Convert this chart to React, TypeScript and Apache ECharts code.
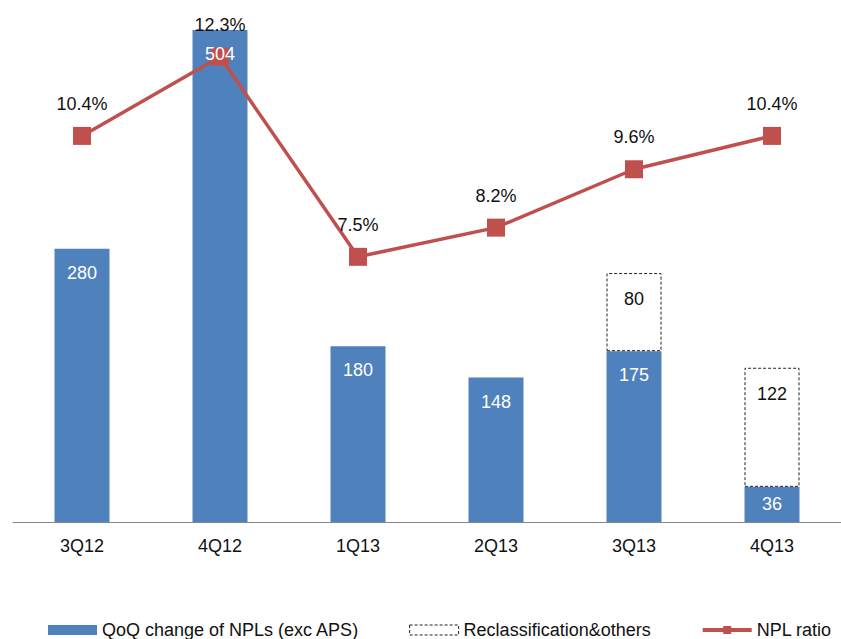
import React, { useEffect, useRef } from "react";
import * as echarts from "echarts";

const categories = ["3Q12", "4Q12", "1Q13", "2Q13", "3Q13", "4Q13"];
const qoqChange = [280, 504, 180, 148, 175, 36];
const reclass = [null, null, null, null, 80, 122];
const nplRatio = [10.4, 12.3, 7.5, 8.2, 9.6, 10.4];

const FONT = "'Liberation Sans', Arial, sans-serif";

export default function App() {
  const ref = useRef<HTMLDivElement>(null);

  useEffect(() => {
    if (!ref.current) return;
    const chart = echarts.init(ref.current, null, { renderer: "svg" });
    chart.setOption({
      animation: false,
      backgroundColor: "#ffffff",
      textStyle: { fontFamily: FONT },
      grid: { left: 13, top: 30, width: 832, height: 492, containLabel: false },
      legend: {
        left: 48,
        top: 621,
        padding: 0,
        itemWidth: 49,
        itemHeight: 10,
        itemGap: 50,
        textStyle: { fontSize: 18, color: "#111111", fontFamily: FONT },
        data: [
          { name: "QoQ change of NPLs (exc APS)", icon: "rect" },
          {
            name: "Reclassification&others",
            icon: "rect",
            itemStyle: { color: "#ffffff", borderColor: "#222222", borderWidth: 1, borderType: [3, 2] },
          },
          { name: "NPL ratio", lineStyle: { width: 4, color: "#C0504D" } },
        ],
      },
      xAxis: {
        type: "category",
        data: categories,
        axisLine: { show: true, lineStyle: { color: "#868686", width: 1 } },
        axisTick: { show: false },
        axisLabel: { fontSize: 18, color: "#111111", margin: 15, fontFamily: FONT },
        splitLine: { show: false },
      },
      yAxis: [
        { type: "value", min: 0, max: 504, show: false, splitLine: { show: false } },
        { type: "value", min: 1.14, max: 12.94, show: false, splitLine: { show: false } },
      ],
      series: [
        {
          name: "QoQ change of NPLs (exc APS)",
          type: "bar",
          stack: "a",
          barWidth: 55,
          itemStyle: { color: "#4F81BD" },
          data: qoqChange,
        },
        {
          name: "Reclassification&others",
          type: "bar",
          stack: "a",
          barWidth: 55,
          itemStyle: {
            color: "#ffffff",
            borderColor: "#222222",
            borderWidth: 1,
            borderType: [3, 2],
          },
          data: reclass,
        },
        {
          name: "NPL ratio",
          type: "line",
          yAxisIndex: 1,
          data: nplRatio,
          symbol: "rect",
          symbolSize: 18,
          itemStyle: { color: "#C0504D" },
          lineStyle: { color: "#C0504D", width: 3.5 },
          z: 5,
          label: {
            show: true,
            position: "top",
            distance: 14,
            color: "#111111",
            fontSize: 18,
            fontFamily: FONT,
            formatter: (p: any) => p.value.toFixed(1) + "%",
          },
        },
        {
          name: "qoqLabels",
          type: "bar",
          stack: "lbl",
          barWidth: 55,
          barGap: "-100%",
          z: 8,
          silent: true,
          itemStyle: { color: "rgba(0,0,0,0)" },
          data: qoqChange.map((v) =>
            v < 60 ? { value: v, label: { position: "inside", distance: 0 } } : v
          ),
          label: {
            show: true,
            position: "insideTop",
            distance: 15,
            color: "#ffffff",
            fontSize: 18,
            fontFamily: FONT,
          },
        },
        {
          name: "reclassLabels",
          type: "bar",
          stack: "lbl",
          barWidth: 55,
          z: 8,
          silent: true,
          itemStyle: { color: "rgba(0,0,0,0)" },
          data: reclass,
          label: {
            show: true,
            position: "insideTop",
            distance: 17,
            color: "#111111",
            fontSize: 18,
            fontFamily: FONT,
          },
        },
      ],
    });
    return () => chart.dispose();
  }, []);

  return (
    <div
      ref={ref}
      style={{ position: "absolute", left: 0, top: 0, width: 841, height: 639, background: "#fff" }}
    />
  );
}
